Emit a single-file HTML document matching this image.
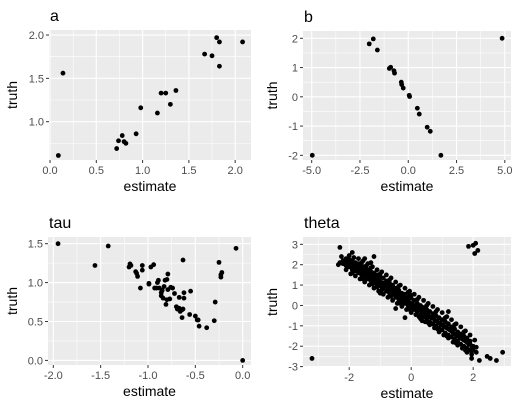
<!DOCTYPE html>
<html><head><meta charset="utf-8"><style>
body{margin:0;background:#fff;}
svg text{font-family:"Liberation Sans",Arial,sans-serif;}
</style></head><body>
<svg id="c" width="519" height="411" xmlns="http://www.w3.org/2000/svg"></svg>
<script>
const aEst=[0.09,0.14,0.72,0.74,0.78,0.80,0.82,0.93,0.98,1.16,1.20,1.25,1.30,1.36,1.67,1.75,1.80,1.83,1.83,2.08];
const aTruth=[0.61,1.56,0.69,0.78,0.84,0.77,0.75,0.86,1.16,1.10,1.33,1.33,1.20,1.36,1.78,1.76,1.97,1.92,1.64,1.92];
const bEst=[-4.97,-2.02,-1.81,-1.60,-0.98,-0.91,-0.74,-0.71,-0.36,-0.34,-0.26,0.05,0.07,0.47,0.57,0.98,1.14,1.69,4.86];
const bTruth=[-2,1.81,1.98,1.60,0.97,1.01,0.89,0.81,0.50,0.42,0.30,0.05,0.01,-0.39,-0.59,-1.04,-1.18,-2,2];
const tauEst=[-1.95,-1.56,-1.42,-1.20,-1.19,-1.18,-1.13,-1.12,-1.11,-1.08,-1.06,-1.06,-0.99,-0.99,-0.97,-0.94,-0.93,-0.91,-0.88,-0.90,-0.89,-0.86,-0.86,-0.85,-0.84,-0.83,-0.82,-0.80,-0.79,-0.81,-0.79,-0.76,-0.74,-0.77,-0.80,-0.72,-0.70,-0.69,-0.67,-0.66,-0.64,-0.63,-0.63,-0.62,-0.64,-0.62,-0.67,-0.55,-0.56,-0.50,-0.48,-0.46,-0.47,-0.38,-0.30,-0.29,-0.25,-0.23,-0.23,-0.22,-0.07,0];
const tauTruth=[1.5,1.22,1.47,1.20,1.24,1.22,1.14,1.12,1.08,0.93,1.22,1.16,0.99,0.98,1.20,1.23,0.93,0.93,0.93,1.00,1.03,0.87,0.83,0.90,0.80,0.95,1.03,1.04,1.11,0.72,0.91,0.94,0.93,0.79,0.78,0.86,0.69,0.66,0.67,0.63,0.65,0.66,1.29,0.87,0.55,0.80,0.81,0.89,0.59,0.57,0.52,0.44,0.52,0.42,0.51,0.75,1.26,1.10,1.07,1.13,1.44,0];
const thetaPairs=[
[-3.2,-2.6],[-2.3,2.85],[-1.9,2.6],[-1.2,2.4],[-1.5,2.3],[-1.3,2.1],[1.85,2.9],[2.0,2.95],[2.08,3.05],[2.05,2.55],[2.15,2.7],[2.2,-2.7],[2.45,-2.5],[2.55,-2.6],[2.75,-2.7],[2.95,-2.3],[-0.2,-0.6],[1.2,-0.3],
[-2.3,2.1],[-2.2,2.2],[-2.2,2.05],[-2.1,2.15],[-2.1,1.95],[-2.1,2.3],[-2.0,2.1],[-2.0,1.9],[-2.0,2.25],[-1.9,2.0],[-1.9,1.75],[-1.9,2.2],
[-1.8,1.95],[-1.8,1.7],[-1.8,2.1],[-1.7,1.85],[-1.7,1.6],[-1.7,2.05],[-1.6,1.75],[-1.6,1.5],[-1.6,1.95],[-1.5,1.7],[-1.5,1.4],[-1.5,1.9],[-1.5,1.55],
[-1.4,1.55],[-1.4,1.3],[-1.4,1.75],[-1.3,1.45],[-1.3,1.2],[-1.3,1.65],[-1.2,1.4],[-1.2,1.1],[-1.2,1.6],[-1.1,1.3],[-1.1,1.0],[-1.1,1.5],[-1.1,0.9],
[-1.0,1.2],[-1.0,0.95],[-1.0,1.4],[-0.9,1.1],[-0.9,0.85],[-0.9,1.35],[-0.8,1.0],[-0.8,0.7],[-0.8,1.2],[-0.7,0.9],[-0.7,0.6],[-0.7,1.1],
[-0.6,0.8],[-0.6,0.55],[-0.6,1.0],[-0.5,0.7],[-0.5,0.4],[-0.5,0.85],[-0.4,0.55],[-0.4,0.3],[-0.4,0.75],[-0.3,0.45],[-0.3,0.2],[-0.3,0.6],
[-0.2,0.35],[-0.2,0.1],[-0.2,0.55],[-0.1,0.25],[-0.1,0.0],[-0.1,0.45],[0.0,0.1],[0.0,-0.1],[0.0,0.35],[0.0,0.5],[0.1,0.0],[0.1,-0.2],[0.1,0.25],
[0.2,-0.1],[0.2,-0.3],[0.2,0.1],[0.3,-0.2],[0.3,-0.45],[0.3,0.0],[0.4,-0.3],[0.4,-0.55],[0.4,-0.1],[0.5,-0.4],[0.5,-0.65],[0.5,-0.2],
[0.6,-0.55],[0.6,-0.8],[0.6,-0.3],[0.7,-0.6],[0.7,-0.9],[0.7,-0.4],[0.8,-0.75],[0.8,-1.0],[0.8,-0.5],[0.9,-0.85],[0.9,-1.1],[0.9,-0.6],
[1.0,-0.95],[1.0,-1.2],[1.0,-0.7],[1.1,-1.05],[1.1,-1.35],[1.1,-0.8],[1.2,-1.15],[1.2,-1.45],[1.2,-0.9],[1.3,-1.25],[1.3,-1.55],[1.3,-1.05],
[1.4,-1.4],[1.4,-1.65],[1.4,-1.15],[1.5,-1.5],[1.5,-1.75],[1.5,-1.3],[1.6,-1.6],[1.6,-1.9],[1.6,-1.4],[1.7,-1.7],[1.7,-2.0],[1.7,-1.5],
[1.8,-1.8],[1.8,-2.1],[1.8,-1.6],[1.8,-2.3],[1.9,-1.9],[1.9,-2.2],[1.9,-1.75],[2.0,-2.0],[2.0,-2.2],[2.1,-2.05],
[-2.15,2.12],[-2.05,2.02],[-1.95,1.88],[-1.85,1.85],[-1.75,1.78],[-1.65,1.65],[-1.55,1.6],[-1.45,1.5],[-1.35,1.4],[-1.25,1.3],[-1.15,1.2],[-1.05,1.1],
[-0.95,1.0],[-0.85,0.95],[-0.75,0.8],[-0.65,0.7],[-0.55,0.6],[-0.45,0.5],[-0.35,0.4],[-0.25,0.3],[-0.15,0.2],[-0.05,0.1],[0.05,0.05],[0.15,-0.1],
[0.25,-0.2],[0.35,-0.3],[0.45,-0.4],[0.55,-0.5],[0.65,-0.6],[0.75,-0.7],[0.85,-0.8],[0.95,-0.9],[1.05,-1.0],[1.15,-1.1],[1.25,-1.2],[1.35,-1.35],
[1.45,-1.45],[1.55,-1.55],[1.65,-1.65],[1.75,-1.75],[1.85,-1.9],[1.95,-2.0],
[-2.25,2.4],[-2.0,2.45],[-1.85,2.35],[-1.7,2.3],[-1.55,2.2],[-1.4,2.05],[-1.25,1.9],[-1.1,1.75],[-0.95,1.65],[-0.8,1.5],[-0.65,1.35],[-0.5,1.15],
[-0.35,1.0],[-0.2,0.85],[-0.05,0.7],[0.1,0.55],[0.25,0.4],[0.4,0.25],[0.55,0.1],[0.7,-0.05],[0.85,-0.2],[1.0,-0.35],[1.15,-0.55],[1.3,-0.7],
[1.45,-0.9],[1.6,-1.05],[1.75,-1.25],[1.9,-1.45],[2.05,-1.7],
[-2.1,1.75],[-1.95,1.55],[-1.8,1.45],[-1.65,1.3],[-1.5,1.15],[-1.35,1.0],[-1.2,0.85],[-1.05,0.7],[-0.9,0.55],[-0.75,0.4],[-0.6,0.25],[-0.45,0.1],
[-0.3,-0.05],[-0.15,-0.2],[0.0,-0.35],[0.15,-0.45],[0.3,-0.65],[0.45,-0.8],[0.6,-0.95],[0.75,-1.1],[0.9,-1.3],[1.05,-1.45],[1.2,-1.6],[1.35,-1.8],
[1.5,-1.95],[1.65,-2.1],[1.8,-2.25],[1.95,-2.4],[2.1,-2.3],
[-1.6,2.1],[-1.3,1.85],[-1.0,1.55],[-0.7,1.25],[-0.4,0.95],[-0.1,0.65],[0.2,0.3],[0.5,0.0],[0.8,-0.3],[1.1,-0.6],[1.4,-0.95],[1.7,-1.3],
[-1.9,1.6],[-1.55,1.3],[-1.25,1.05],[-0.95,0.75],[-0.65,0.45],[-0.35,0.1],[-0.05,-0.2],[0.25,-0.55],[0.55,-0.85],[0.85,-1.15],[1.15,-1.5],[1.45,-1.85],[1.75,-2.2],
[-0.5,-0.15],[0.35,-0.75],[-1.45,1.95],[1.95,-2.6],[-2.35,2.0],[-1.0,0.6]];
const thetaEst=thetaPairs.map(p=>p[0]);
const thetaTruth=thetaPairs.map(p=>p[1]);

const NS="http://www.w3.org/2000/svg";
const svg=document.getElementById('c');
function mk(tag,attrs,parent){const e=document.createElementNS(NS,tag);for(const k in attrs)e.setAttribute(k,attrs[k]);(parent||svg).appendChild(e);return e;}
function fmt(v,d){return v<0?'-'+Math.abs(v).toFixed(d):v.toFixed(d);}

function panel(p){
  const g=mk('g',{});
  
  
  const sx=v=>p.x0+(v-p.xd[0])/(p.xd[1]-p.xd[0])*(p.x1-p.x0);
  const sy=v=>p.y1-(v-p.yd[0])/(p.yd[1]-p.yd[0])*(p.y1-p.y0);
  const bg=mk('rect',{x:p.x0,y:p.y0,width:p.x1-p.x0,height:p.y1-p.y0,fill:'#EBEBEB'},g);
  
  
  p.xminor.forEach(v=>mk('line',{x1:sx(v),x2:sx(v),y1:p.y0,y2:p.y1,stroke:'#fff','stroke-width':0.55},g));
  p.yminor.forEach(v=>mk('line',{y1:sy(v),y2:sy(v),x1:p.x0,x2:p.x1,stroke:'#fff','stroke-width':0.55},g));
  p.xt.forEach(v=>{
    mk('line',{x1:sx(v),x2:sx(v),y1:p.y0,y2:p.y1,stroke:'#fff','stroke-width':1.1},g);
    mk('line',{x1:sx(v),x2:sx(v),y1:p.y1,y2:p.y1+3,stroke:'#333','stroke-width':1},g);
    const t=mk('text',{x:sx(v),y:p.y1+14,'text-anchor':'middle','font-size':11,fill:'#4D4D4D'},g);
    t.textContent=fmt(v,p.xdec);
    
    
  });
  p.yt.forEach(v=>{
    mk('line',{y1:sy(v),y2:sy(v),x1:p.x0,x2:p.x1,stroke:'#fff','stroke-width':1.1},g);
    mk('line',{y1:sy(v),y2:sy(v),x1:p.x0-3,x2:p.x0,stroke:'#333','stroke-width':1},g);
    const t=mk('text',{x:p.x0-5,y:sy(v)+4,'text-anchor':'end','font-size':11,fill:'#4D4D4D'},g);
    t.textContent=fmt(v,p.ydec);
    
    
  });
  p.ex.forEach((v,i)=>{
    const c=mk('circle',{cx:sx(v),cy:sy(p.tr[i]),r:2.4,fill:'#000'},g);
    
    
  });
  const ti=mk('text',{x:p.x0+1,y:p.y0-9,'font-size':16,fill:'#000'},g);
  ti.textContent=p.name;
  
  
  const xl=mk('text',{x:(p.x0+p.x1)/2,y:p.y1+31,'text-anchor':'middle','font-size':14,fill:'#000'},g);
  xl.textContent='estimate';
  
  
  const yx=p.ylx, yy=(p.y0+p.y1)/2;
  const yl=mk('text',{x:yx,y:yy,'text-anchor':'middle','font-size':14,fill:'#000',transform:`rotate(-90 ${yx} ${yy})`},g);
  yl.textContent='truth';
  
  
}
panel({name:'a',x0:49,x1:251,y0:30,y1:160,xd:[-0.011,2.171],yd:[0.558,2.058],xt:[0,0.5,1,1.5,2],xminor:[0.25,0.75,1.25,1.75],yt:[1,1.5,2],yminor:[0.75,1.25,1.75],xdec:1,ydec:1,ex:aEst,tr:aTruth,ylx:17});
panel({name:'b',x0:303,x1:511,y0:31,y1:160,xd:[-5.45,5.32],yd:[-2.16,2.25],xt:[-5,-2.5,0,2.5,5],xminor:[-3.75,-1.25,1.25,3.75],yt:[-2,-1,0,1,2],yminor:[-1.5,-0.5,0.5,1.5],xdec:1,ydec:0,ex:bEst,tr:bTruth,ylx:277});
panel({name:'tau',x0:48,x1:251,y0:237,y1:365,xd:[-2.056,0.088],yd:[-0.059,1.586],xt:[-2,-1.5,-1,-0.5,0],xminor:[-1.75,-1.25,-0.75,-0.25],yt:[0,0.5,1,1.5],yminor:[0.25,0.75,1.25],xdec:1,ydec:1,ex:tauEst,tr:tauTruth,ylx:17});
panel({name:'theta',x0:303,x1:511,y0:237,y1:367,xd:[-3.49,3.22],yd:[-3.02,3.36],xt:[-2,0,2],xminor:[-3,-1,1,3],yt:[-3,-2,-1,0,1,2,3],yminor:[-2.5,-1.5,-0.5,0.5,1.5,2.5],xdec:0,ydec:0,ex:thetaEst,tr:thetaTruth,ylx:277});
</script>
</body></html>
